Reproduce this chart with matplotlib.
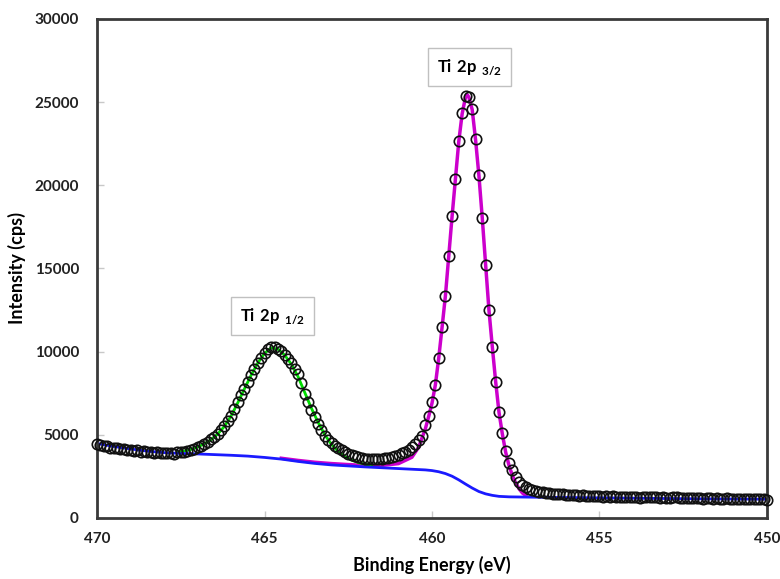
import numpy as np
import matplotlib
matplotlib.use('Agg')
import matplotlib.pyplot as plt

plt.rcParams['font.family'] = ['Lato', 'DejaVu Sans']
plt.rcParams['mathtext.fontset'] = 'custom'
plt.rcParams['mathtext.rm'] = 'Lato'
plt.rcParams['mathtext.bf'] = 'Lato:bold'

# ------------------
# measured Ti 2p spectrum, 0.1 eV step from 470 to 450 eV

energy = np.linspace(470.0, 450.0, 201)

counts = [
    4450, 4380, 4300, 4330, 4220, 4180, 4200, 4120, 4150, 4080,
    4100, 4040, 4060, 3990, 4010, 3950, 3970, 3920, 3960, 3900,
    3920, 3880, 3930, 3870, 3950, 3960, 3990, 4030, 4080, 4150,
    4250,
    4350, 4470, 4580, 4720, 4870, 5060, 5280, 5520, 5820, 6150,
    6550, 6950, 7400, 7780, 8200, 8620, 8950, 9330, 9620, 9920,
    10150, 10270, 10250, 10130, 10010, 9820, 9580, 9300, 8980, 8650,
    8100, 7450, 6950, 6480, 6050, 5650, 5270, 4950, 4680, 4480,
    4320, 4180, 4060, 3950, 3860, 3780, 3700, 3640, 3590, 3560,
    3540, 3520, 3550, 3530, 3570, 3600, 3630, 3680, 3730, 3810,
    3900, 3990, 4100, 4250, 4450, 4680, 4950, 5570, 6130, 6960,
    8010, 9620, 11480, 13350, 15770, 18170, 20400, 22660, 24330, 25370,
    25330, 24570, 22770, 20620, 18040, 15230, 12500, 10300, 8190, 6360,
    5130, 4030, 3290, 2890, 2480, 2180, 1980, 1850, 1750, 1680,
    1620, 1580, 1550, 1520, 1490, 1470, 1450, 1430, 1420, 1400,
    1390, 1370, 1380, 1350, 1360, 1330, 1340, 1320, 1300, 1330,
    1290, 1310, 1280, 1300, 1270, 1260, 1290, 1250, 1270, 1240,
    1260, 1230, 1250, 1270, 1240, 1260, 1240, 1220, 1250, 1230,
    1210, 1290, 1240, 1230, 1190, 1220, 1200, 1180, 1210, 1190,
    1170, 1200, 1180, 1160, 1190, 1170, 1150, 1180, 1160, 1140,
    1170, 1150, 1130, 1160, 1140, 1120, 1150, 1130, 1140, 1110,
]

# Shirley background
bg_energy = [470.0, 469.5, 469.0, 468.5, 468.0, 467.5, 467.0, 466.5, 466.0,
             465.5, 465.0, 464.5, 464.0, 463.5, 463.0, 462.5, 462.0, 461.5,
             461.0, 460.5, 460.2, 460.0, 459.8, 459.6, 459.4, 459.2, 459.0,
             458.8, 458.6, 458.4, 458.2, 458.0, 457.7, 457.0,
             456.0, 455.0, 454.0, 453.0, 452.0, 451.0, 450.0]
bg_counts = [4480, 4300, 4150, 4020, 3930, 3880, 3850, 3810, 3770,
             3720, 3640, 3540, 3400, 3280, 3190, 3130, 3070, 3020,
             2970, 2920, 2890, 2850, 2780, 2670, 2510, 2290, 2040,
             1800, 1590, 1450, 1360, 1300, 1270, 1250,
             1230, 1210, 1190, 1170, 1150, 1140, 1130]

# Ti 2p1/2 component (+ background)
p12_energy = [467.6, 467.4, 467.2, 467.0, 466.8, 466.6, 466.4, 466.2, 466.0,
              465.8, 465.6, 465.4, 465.2, 465.0, 464.8, 464.6, 464.4, 464.2,
              464.0, 463.8, 463.6, 463.4, 463.2, 463.0, 462.8, 462.6, 462.4,
              462.2, 462.0, 461.8]
p12_counts = [3950, 4020, 4120, 4260, 4460, 4700, 5040, 5500, 6120,
              6920, 7760, 8580, 9320, 9900, 10230, 10150, 9800, 9250,
              8500, 7550, 6600, 5750, 5000, 4420, 4000, 3700, 3480,
              3330, 3230, 3170]

# Ti 2p3/2 component (+ background)
p32_energy = [464.5, 464.0, 463.5, 463.0, 462.5, 462.0, 461.5, 461.0, 460.6,
              460.4, 460.2, 460.1, 460.0, 459.9, 459.8, 459.7, 459.6, 459.5,
              459.4, 459.3, 459.2, 459.1, 459.0, 458.95, 458.9, 458.8, 458.7,
              458.6, 458.5, 458.4, 458.3, 458.2, 458.1, 458.0, 457.9, 457.8,
              457.7, 457.6, 457.5, 457.4, 457.3, 457.2]
p32_counts = [3590, 3460, 3350, 3270, 3210, 3160, 3160, 3270, 3650,
              4250, 5350, 6100, 6900, 8000, 9600, 11450, 13350, 15750,
              18150, 20400, 22650, 24300, 25300, 25450, 25300, 24550, 22750,
              20600, 18050, 15250, 12500, 10300, 8200, 6350, 5050, 3950,
              3150, 2550, 2100, 1750, 1500, 1350]

labels = ['Ti 2p', 'Ti 2p']
label_sub = ['1/2', '3/2']
label_pos = [(464.77, 12150), (458.89, 27100)]


fig = plt.figure(figsize=(7.8, 5.79), dpi=100)
ax = fig.add_axes((0.1244, 0.1054, 0.8589, 0.8618))

ax.plot(p32_energy, p32_counts, color='#cc00cc', lw=2.5, zorder=2)
ax.plot(p12_energy, p12_counts, color='#00dd00', lw=2, zorder=2.1)
ax.plot(bg_energy, bg_counts, color='#1a1aff', lw=2, zorder=2.2)

ax.plot(energy, counts, ls='none', marker='o', ms=7.5, mfc='none',
        mec='#111111', mew=1.2, zorder=3, clip_on=False)

for (x, y), lab, sub in zip(label_pos, labels, label_sub):
    ax.text(x, y, r'$\mathbf{' + lab.replace(' ', r'\ ') + r'\ }_{\mathbf{' + sub + '}}$',
            ha='center', va='center', fontsize=12,
            bbox=dict(boxstyle='square,pad=0.55', fc='white', ec='#c0c0c0', lw=1))

ax.set_xlim(470, 450)
ax.set_ylim(0, 30000)
ax.set_xticks([470, 465, 460, 455, 450])
ax.set_yticks(np.arange(0, 30001, 5000))

for s in ax.spines.values():
    s.set_color('#3a3a3a')
    s.set_linewidth(2)

ax.tick_params(axis='both', direction='in', length=5, width=1, color='#c8c8c8',
               labelsize=11)
ax.tick_params(axis='x', pad=10)
ax.tick_params(axis='y', pad=13)
for t in ax.get_xticklabels() + ax.get_yticklabels():
    t.set_fontweight('bold')
    t.set_color('#222222')

ax.set_xlabel('Binding Energy (eV)', fontsize=13, fontweight='bold', labelpad=7)
ax.set_ylabel('Intensity (cps)', fontsize=13, fontweight='bold', labelpad=6)

fig.savefig('out.png', dpi=100)
